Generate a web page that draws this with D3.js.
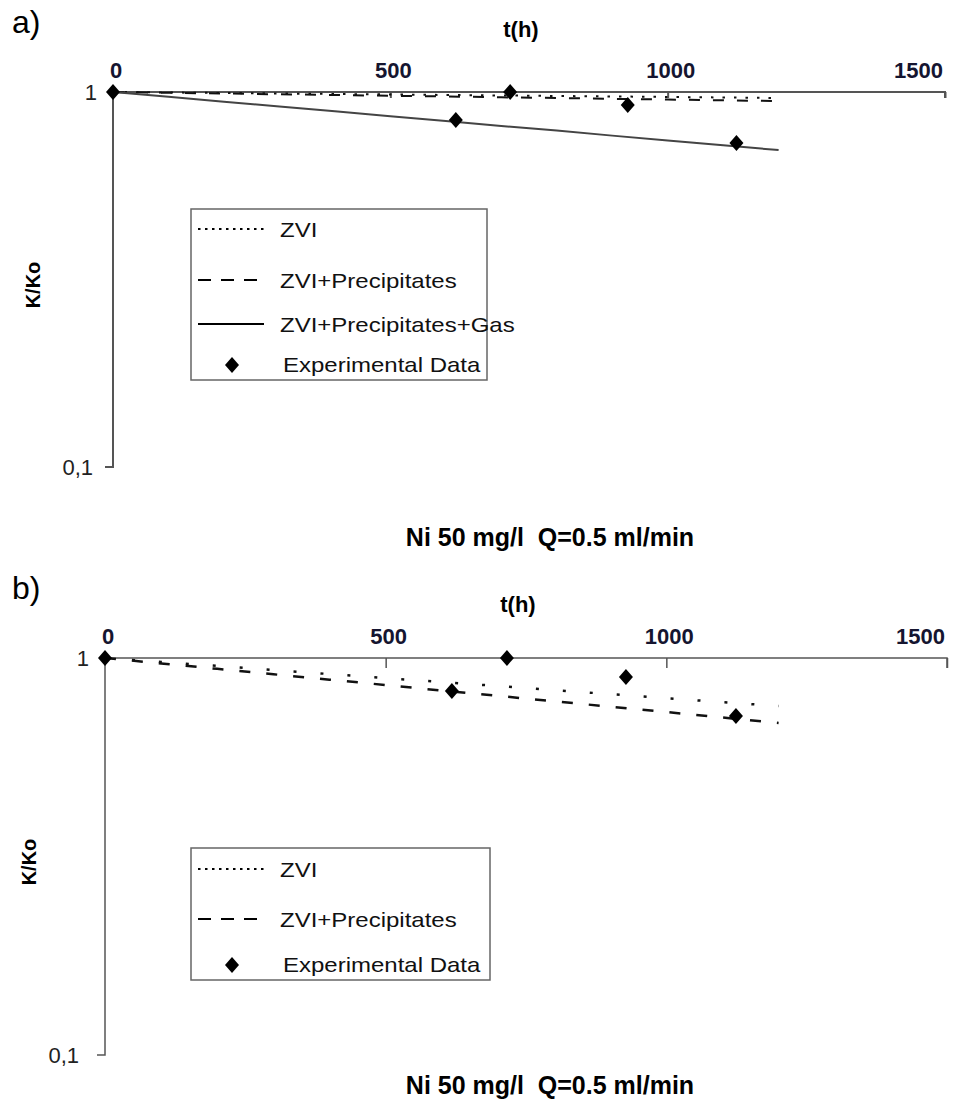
<!DOCTYPE html>
<html>
<head>
<meta charset="utf-8">
<script src="https://cdn.jsdelivr.net/npm/d3@7"></script>
<style>
  body { margin: 0; background: #fff; }
  svg text { font-family: "Liberation Sans", Arial, sans-serif; }
  .tick-lbl { font-weight: bold; }
</style>
</head>
<body>
<div id="chart"></div>
<script>
// time axis, same sampling for all model curves
var hours = [0, 100, 200, 300, 400, 500, 600, 700, 800, 900, 1000, 1100, 1200];

// panel a) models
var aZvi      = [1, 0.997, 0.994, 0.991, 0.988, 0.985, 0.982, 0.979, 0.976, 0.973, 0.970, 0.967, 0.964];
var aZviPrec  = [1, 0.995, 0.991, 0.986, 0.982, 0.977, 0.973, 0.968, 0.964, 0.959, 0.955, 0.950, 0.946];
var aZviGas   = [1, 0.971, 0.942, 0.915, 0.888, 0.862, 0.837, 0.812, 0.789, 0.765, 0.743, 0.721, 0.700];
// panel b) models
var bZvi      = [1, 0.977, 0.955, 0.933, 0.911, 0.890, 0.870, 0.850, 0.830, 0.811, 0.792, 0.774, 0.757];
var bZviPrec  = [1, 0.969, 0.939, 0.910, 0.882, 0.855, 0.828, 0.803, 0.778, 0.754, 0.731, 0.708, 0.686];

// experimental data
var expHours = [0, 618, 716, 928, 1124];
var aExp     = [1, 0.842, 1, 0.923, 0.731];
var bExp     = [1, 0.826, 1, 0.896, 0.714];

var xTicks = [0, 500, 1000, 1500];
var yTicks = [1, 0.1];
var yTickLabels = ["1", "0,1"];

var width = 967, height = 1103;
var svg = d3.select("#chart").append("svg")
    .attr("width", width)
    .attr("height", height);

var diamond = "M0,-8L7,0L0,8L-7,0Z";

function drawPanel(p) {
    var x = d3.scaleLinear().domain([0, 1500]).range([p.left, p.right]);
    var y = d3.scaleLog().domain([0.1, 1]).range([p.bottom, p.top]);
    var g = svg.append("g");

    // panel letter
    g.append("text").attr("x", 12).attr("y", p.top - 59)
        .attr("font-size", "32px").text(p.letter);

    // x axis on top (at K/Ko = 1)
    var xAxis = d3.axisBottom(x).tickValues(xTicks).tickSize(p.tick).tickFormat("");
    var xg = g.append("g").attr("transform", "translate(0," + y(1) + ")").call(xAxis);
    xg.select(".domain").attr("stroke", "#555").attr("stroke-width", p.axisW)
        .attr("d", "M" + x(0) + ",0H" + x(1500) + "V" + p.tick);
    xg.selectAll(".tick line").attr("stroke", "#555").attr("stroke-width", p.axisW);
    xg.selectAll(".tick").filter(function(d) { return d === 0; }).remove();

    g.selectAll(".xl").data(xTicks).enter().append("text")
        .attr("class", "tick-lbl")
        .attr("x", function(d) { return d === 1500 ? x(d) - 2 : x(d) + 3; })
        .attr("y", y(1) - p.lblGap)
        .attr("text-anchor", function(d) { return d === 1500 ? "end" : "middle"; })
        .attr("font-size", "22px")
        .attr("fill", "#151530")
        .text(function(d) { return d; });

    g.append("text").attr("class", "tick-lbl")
        .attr("x", x(750) - 8).attr("y", p.top - p.titleGap)
        .attr("text-anchor", "middle").attr("font-size", "22px")
        .text("t(h)");

    // y axis (log)
    var yAxis = d3.axisLeft(y).tickValues([0.1]).tickSize(8).tickFormat("");
    var yg = g.append("g").attr("transform", "translate(" + x(0) + ",0)").call(yAxis);
    yg.select(".domain").attr("stroke", "#555").attr("stroke-width", p.axisW)
        .attr("d", "M0," + y(1) + "V" + y(0.1) + "H-8");
    yg.selectAll(".tick line").remove();

    g.selectAll(".yl").data(yTicks).enter().append("text")
        .attr("x", function(d, i) { return x(0) - (i === 0 ? 16 : p.lowGap); })
        .attr("y", function(d) { return y(d) + 8; })
        .attr("text-anchor", "end")
        .attr("font-size", "22px")
        .attr("fill", "#222")
        .text(function(d, i) { return yTickLabels[i]; });

    g.append("text")
        .attr("transform", "translate(" + p.kx + "," + p.ky + ") rotate(-90)")
        .attr("text-anchor", "middle")
        .attr("font-weight", "bold").attr("font-size", "20px")
        .text("K/Ko");

    // model curves
    var line = d3.line()
        .x(function(d, i) { return x(hours[i]); })
        .y(function(d) { return y(d); });

    p.series.forEach(function(s) {
        g.append("path").datum(s.values)
            .attr("d", line)
            .attr("fill", "none")
            .attr("stroke", s.color)
            .attr("stroke-width", s.w)
            .attr("stroke-dasharray", s.dash);
    });

    // experimental points
    g.selectAll(".pt").data(p.exp).enter().append("path")
        .attr("d", diamond)
        .attr("fill", "#000")
        .attr("transform", function(d, i) {
            return "translate(" + x(expHours[i]) + "," + y(d) + ")";
        });

    // legend
    var lg = g.append("g");
    lg.append("rect")
        .attr("x", p.leg.x).attr("y", p.leg.y)
        .attr("width", p.leg.w).attr("height", p.leg.h)
        .attr("fill", "#fff").attr("stroke", "#666").attr("stroke-width", 1.5);

    var items = p.series.map(function(s) { return s; });
    items.push({ name: "Experimental Data", marker: true });
    items.forEach(function(s, i) {
        var yy = p.leg.rows[i];
        if (s.marker) {
            lg.append("path").attr("d", diamond).attr("fill", "#000")
                .attr("transform", "translate(" + (p.leg.x + 41) + "," + (yy - 7) + ")");
        } else {
            lg.append("line")
                .attr("x1", p.leg.x + 7).attr("x2", p.leg.x + 73)
                .attr("y1", yy - 8).attr("y2", yy - 8)
                .attr("stroke", "#000").attr("stroke-width", 2)
                .attr("stroke-dasharray", s.legDash);
        }
        lg.append("text")
            .attr("transform", "translate(" + (p.leg.x + (s.marker ? 92 : 89)) + "," + yy + ") scale(1.2,1)")
            .attr("font-size", "20px")
            .attr("fill", "#111")
            .text(s.name);
    });

    // panel title
    g.append("text")
        .attr("x", 550).attr("y", p.caption)
        .attr("text-anchor", "middle")
        .attr("font-weight", "bold").attr("font-size", "25px")
        .style("white-space", "pre")
        .text("Ni 50 mg/l  Q=0.5 ml/min");
}

drawPanel({
    letter: "a)", left: 113, right: 945, top: 92, bottom: 467,
    tick: 6, axisW: 2, lblGap: 14, titleGap: 55, lowGap: 20,
    kx: 40, ky: 285, caption: 546, exp: aExp,
    series: [
        { name: "ZVI", values: aZvi, dash: "2.5,9", legDash: "2.5,4.5", color: "#111", w: 2 },
        { name: "ZVI+Precipitates", values: aZviPrec, dash: "11,13", legDash: "13,10", color: "#111", w: 2 },
        { name: "ZVI+Precipitates+Gas", values: aZviGas, dash: null, legDash: null, color: "#444", w: 2 }
    ],
    leg: { x: 191, y: 209, w: 296, h: 171, rows: [237, 288, 332, 372] }
});

drawPanel({
    letter: "b)", left: 105, right: 947, top: 658, bottom: 1055,
    tick: 10, axisW: 1.5, lblGap: 14, titleGap: 46, lowGap: 26,
    kx: 36, ky: 862, caption: 1094, exp: bExp,
    series: [
        { name: "ZVI", values: bZvi, dash: "3,24", legDash: "2.5,4.5", color: "#111", w: 2.5 },
        { name: "ZVI+Precipitates", values: bZviPrec, dash: "11,16", legDash: "13,10", color: "#111", w: 2.5 }
    ],
    leg: { x: 191, y: 848, w: 299, h: 132, rows: [877, 927, 972] }
});
</script>
</body>
</html>
